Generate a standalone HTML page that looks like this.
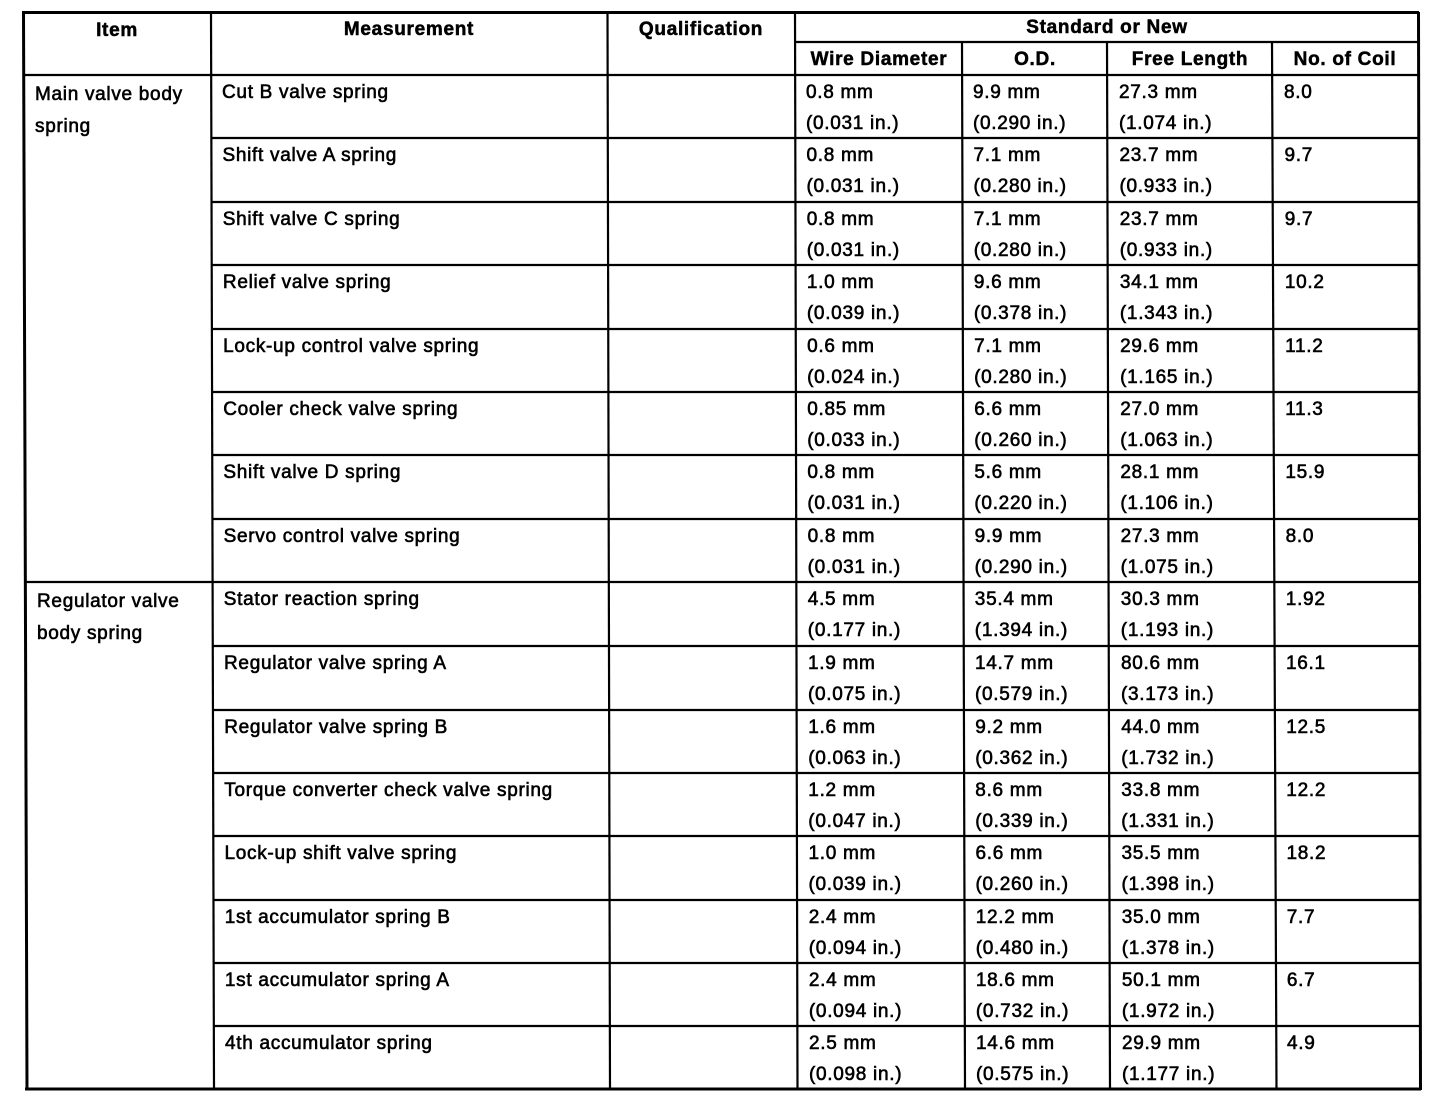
<!DOCTYPE html>
<html>
<head>
<meta charset="utf-8">
<style>
html,body{margin:0;padding:0;background:#fff;}
svg{display:block;}
.t{font-family:"Liberation Sans",Arial,sans-serif;font-size:19px;letter-spacing:0.7px;fill:#000;stroke:#000;stroke-width:0.6px;}
.h{font-family:"Liberation Sans",Arial,sans-serif;font-size:19px;font-weight:bold;letter-spacing:0.7px;fill:#000;stroke:#000;stroke-width:0.5px;text-anchor:middle;}
.l{stroke:#000;stroke-width:2.2;fill:none;}
.b{stroke:#000;stroke-width:3;fill:none;}
</style>
</head>
<body>
<svg width="1456" height="1110" viewBox="0 0 1456 1110" xmlns="http://www.w3.org/2000/svg">
<line class="b" x1="22" y1="12.5" x2="1419" y2="12.5"/>
<line class="b" x1="25" y1="1089" x2="1421" y2="1089"/>
<line class="b" x1="23.5" y1="12" x2="27" y2="1090"/>
<line class="b" x1="1418.5" y1="12" x2="1420.5" y2="1090"/>
<line class="l" x1="211" y1="12" x2="214" y2="1089"/>
<line class="l" x1="607.5" y1="12" x2="610" y2="1089"/>
<line class="l" x1="795" y1="12" x2="797.5" y2="1089"/>
<line class="l" x1="962" y1="42" x2="965" y2="1089"/>
<line class="l" x1="1107" y1="42" x2="1110" y2="1089"/>
<line class="l" x1="1272" y1="42" x2="1276.5" y2="1089"/>
<line class="l" x1="795" y1="42" x2="1418.5" y2="42"/>
<line class="l" x1="23.5" y1="75" x2="1418.5" y2="75"/>
<line class="l" x1="25" y1="582" x2="1419.5" y2="582"/>
<line class="l" x1="211" y1="138" x2="1418.5" y2="138"/>
<line class="l" x1="211" y1="202" x2="1418.5" y2="202"/>
<line class="l" x1="212" y1="265" x2="1419" y2="265"/>
<line class="l" x1="212" y1="329" x2="1419" y2="329"/>
<line class="l" x1="212" y1="392" x2="1419" y2="392"/>
<line class="l" x1="212" y1="455" x2="1419" y2="455"/>
<line class="l" x1="212" y1="519" x2="1419.5" y2="519"/>
<line class="l" x1="213" y1="646" x2="1419.5" y2="646"/>
<line class="l" x1="213" y1="710" x2="1419.5" y2="710"/>
<line class="l" x1="213" y1="773" x2="1420" y2="773"/>
<line class="l" x1="213" y1="836" x2="1420" y2="836"/>
<line class="l" x1="213.5" y1="900" x2="1420" y2="900"/>
<line class="l" x1="213.5" y1="963" x2="1420" y2="963"/>
<line class="l" x1="214" y1="1026" x2="1420.5" y2="1026"/>

<text class="h" x="117" y="36">Item</text>
<text class="h" x="409" y="35">Measurement</text>
<text class="h" x="701" y="35">Qualification</text>
<text class="h" x="1107" y="33">Standard or New</text>
<text class="h" x="879" y="65">Wire Diameter</text>
<text class="h" x="1035" y="65">O.D.</text>
<text class="h" x="1190" y="65">Free Length</text>
<text class="h" x="1345" y="65">No. of Coil</text>

<text class="t" x="35" y="100">Main valve body</text>
<text class="t" x="35" y="132">spring</text>
<text class="t" x="37" y="607">Regulator valve</text>
<text class="t" x="37" y="639">body spring</text>

<g transform="translate(0,75)">
<text class="t" x="222" y="23">Cut B valve spring</text>
<text class="t" x="806" y="23">0.8 mm</text><text class="t" x="806" y="54">(0.031 in.)</text>
<text class="t" x="973" y="23">9.9 mm</text><text class="t" x="973" y="54">(0.290 in.)</text>
<text class="t" x="1119" y="23">27.3 mm</text><text class="t" x="1119" y="54">(1.074 in.)</text>
<text class="t" x="1284" y="23">8.0</text>
</g>
<g transform="translate(0.5,138)">
<text class="t" x="222" y="23">Shift valve A spring</text>
<text class="t" x="806" y="23">0.8 mm</text><text class="t" x="806" y="54">(0.031 in.)</text>
<text class="t" x="973" y="23">7.1 mm</text><text class="t" x="973" y="54">(0.280 in.)</text>
<text class="t" x="1119" y="23">23.7 mm</text><text class="t" x="1119" y="54">(0.933 in.)</text>
<text class="t" x="1284" y="23">9.7</text>
</g>
<g transform="translate(0.7,202)">
<text class="t" x="222" y="23">Shift valve C spring</text>
<text class="t" x="806" y="23">0.8 mm</text><text class="t" x="806" y="54">(0.031 in.)</text>
<text class="t" x="973" y="23">7.1 mm</text><text class="t" x="973" y="54">(0.280 in.)</text>
<text class="t" x="1119" y="23">23.7 mm</text><text class="t" x="1119" y="54">(0.933 in.)</text>
<text class="t" x="1284" y="23">9.7</text>
</g>
<g transform="translate(0.9,265)">
<text class="t" x="222" y="23">Relief valve spring</text>
<text class="t" x="806" y="23">1.0 mm</text><text class="t" x="806" y="54">(0.039 in.)</text>
<text class="t" x="973" y="23">9.6 mm</text><text class="t" x="973" y="54">(0.378 in.)</text>
<text class="t" x="1119" y="23">34.1 mm</text><text class="t" x="1119" y="54">(1.343 in.)</text>
<text class="t" x="1284" y="23">10.2</text>
</g>
<g transform="translate(1.1,329)">
<text class="t" x="222" y="23">Lock-up control valve spring</text>
<text class="t" x="806" y="23">0.6 mm</text><text class="t" x="806" y="54">(0.024 in.)</text>
<text class="t" x="973" y="23">7.1 mm</text><text class="t" x="973" y="54">(0.280 in.)</text>
<text class="t" x="1119" y="23">29.6 mm</text><text class="t" x="1119" y="54">(1.165 in.)</text>
<text class="t" x="1284" y="23">11.2</text>
</g>
<g transform="translate(1.2,392)">
<text class="t" x="222" y="23">Cooler check valve spring</text>
<text class="t" x="806" y="23">0.85 mm</text><text class="t" x="806" y="54">(0.033 in.)</text>
<text class="t" x="973" y="23">6.6 mm</text><text class="t" x="973" y="54">(0.260 in.)</text>
<text class="t" x="1119" y="23">27.0 mm</text><text class="t" x="1119" y="54">(1.063 in.)</text>
<text class="t" x="1284" y="23">11.3</text>
</g>
<g transform="translate(1.4,455)">
<text class="t" x="222" y="23">Shift valve D spring</text>
<text class="t" x="806" y="23">0.8 mm</text><text class="t" x="806" y="54">(0.031 in.)</text>
<text class="t" x="973" y="23">5.6 mm</text><text class="t" x="973" y="54">(0.220 in.)</text>
<text class="t" x="1119" y="23">28.1 mm</text><text class="t" x="1119" y="54">(1.106 in.)</text>
<text class="t" x="1284" y="23">15.9</text>
</g>
<g transform="translate(1.6,519)">
<text class="t" x="222" y="23">Servo control valve spring</text>
<text class="t" x="806" y="23">0.8 mm</text><text class="t" x="806" y="54">(0.031 in.)</text>
<text class="t" x="973" y="23">9.9 mm</text><text class="t" x="973" y="54">(0.290 in.)</text>
<text class="t" x="1119" y="23">27.3 mm</text><text class="t" x="1119" y="54">(1.075 in.)</text>
<text class="t" x="1284" y="23">8.0</text>
</g>
<g transform="translate(1.8,582)">
<text class="t" x="222" y="23">Stator reaction spring</text>
<text class="t" x="806" y="23">4.5 mm</text><text class="t" x="806" y="54">(0.177 in.)</text>
<text class="t" x="973" y="23">35.4 mm</text><text class="t" x="973" y="54">(1.394 in.)</text>
<text class="t" x="1119" y="23">30.3 mm</text><text class="t" x="1119" y="54">(1.193 in.)</text>
<text class="t" x="1284" y="23">1.92</text>
</g>
<g transform="translate(2.0,646)">
<text class="t" x="222" y="23">Regulator valve spring A</text>
<text class="t" x="806" y="23">1.9 mm</text><text class="t" x="806" y="54">(0.075 in.)</text>
<text class="t" x="973" y="23">14.7 mm</text><text class="t" x="973" y="54">(0.579 in.)</text>
<text class="t" x="1119" y="23">80.6 mm</text><text class="t" x="1119" y="54">(3.173 in.)</text>
<text class="t" x="1284" y="23">16.1</text>
</g>
<g transform="translate(2.2,710)">
<text class="t" x="222" y="23">Regulator valve spring B</text>
<text class="t" x="806" y="23">1.6 mm</text><text class="t" x="806" y="54">(0.063 in.)</text>
<text class="t" x="973" y="23">9.2 mm</text><text class="t" x="973" y="54">(0.362 in.)</text>
<text class="t" x="1119" y="23">44.0 mm</text><text class="t" x="1119" y="54">(1.732 in.)</text>
<text class="t" x="1284" y="23">12.5</text>
</g>
<g transform="translate(2.3,773)">
<text class="t" x="222" y="23">Torque converter check valve spring</text>
<text class="t" x="806" y="23">1.2 mm</text><text class="t" x="806" y="54">(0.047 in.)</text>
<text class="t" x="973" y="23">8.6 mm</text><text class="t" x="973" y="54">(0.339 in.)</text>
<text class="t" x="1119" y="23">33.8 mm</text><text class="t" x="1119" y="54">(1.331 in.)</text>
<text class="t" x="1284" y="23">12.2</text>
</g>
<g transform="translate(2.5,836)">
<text class="t" x="222" y="23">Lock-up shift valve spring</text>
<text class="t" x="806" y="23">1.0 mm</text><text class="t" x="806" y="54">(0.039 in.)</text>
<text class="t" x="973" y="23">6.6 mm</text><text class="t" x="973" y="54">(0.260 in.)</text>
<text class="t" x="1119" y="23">35.5 mm</text><text class="t" x="1119" y="54">(1.398 in.)</text>
<text class="t" x="1284" y="23">18.2</text>
</g>
<g transform="translate(2.7,900)">
<text class="t" x="222" y="23">1st accumulator spring B</text>
<text class="t" x="806" y="23">2.4 mm</text><text class="t" x="806" y="54">(0.094 in.)</text>
<text class="t" x="973" y="23">12.2 mm</text><text class="t" x="973" y="54">(0.480 in.)</text>
<text class="t" x="1119" y="23">35.0 mm</text><text class="t" x="1119" y="54">(1.378 in.)</text>
<text class="t" x="1284" y="23">7.7</text>
</g>
<g transform="translate(2.9,963)">
<text class="t" x="222" y="23">1st accumulator spring A</text>
<text class="t" x="806" y="23">2.4 mm</text><text class="t" x="806" y="54">(0.094 in.)</text>
<text class="t" x="973" y="23">18.6 mm</text><text class="t" x="973" y="54">(0.732 in.)</text>
<text class="t" x="1119" y="23">50.1 mm</text><text class="t" x="1119" y="54">(1.972 in.)</text>
<text class="t" x="1284" y="23">6.7</text>
</g>
<g transform="translate(3.0,1026)">
<text class="t" x="222" y="23">4th accumulator spring</text>
<text class="t" x="806" y="23">2.5 mm</text><text class="t" x="806" y="54">(0.098 in.)</text>
<text class="t" x="973" y="23">14.6 mm</text><text class="t" x="973" y="54">(0.575 in.)</text>
<text class="t" x="1119" y="23">29.9 mm</text><text class="t" x="1119" y="54">(1.177 in.)</text>
<text class="t" x="1284" y="23">4.9</text>
</g>
</svg>
</body>
</html>
